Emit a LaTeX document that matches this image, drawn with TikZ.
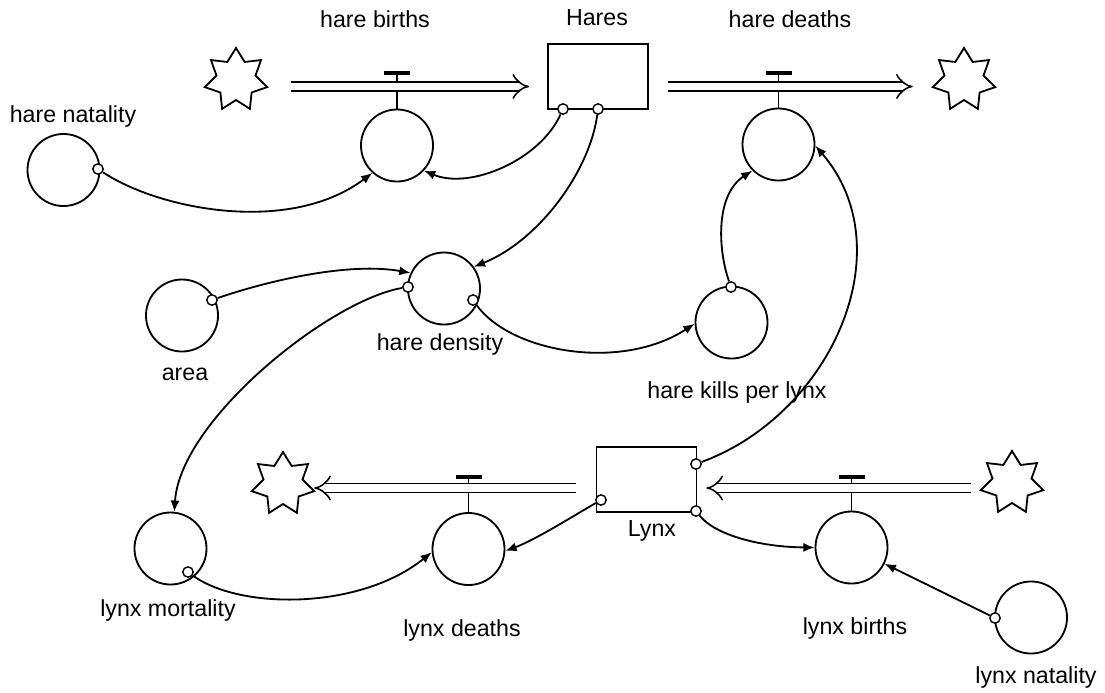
\documentclass[tikz,border=0pt]{standalone}
\usepackage{fontspec}
\setmainfont{Liberation Sans}
\usetikzlibrary{shapes.geometric,arrows.meta}

\tikzset{
  aux/.style={circle, draw, minimum size=1.8cm, inner sep=0pt},
  stock/.style={rectangle, draw, minimum width=2.5cm, minimum height=1.625cm, inner sep=0pt},
  cloud/.style={star, star points=7, star point ratio=1.6, draw, minimum size=1.6cm, inner sep=0pt},
  port/.style={circle, draw, fill=white, line width=1pt, minimum size=0.26cm, inner sep=0pt},
  lbl/.style={font=\fontsize{16.5}{20}\selectfont},
  flow/.style={double, double distance=5.2pt, line width=1.1pt, -{Implies}},
  link/.style={-{Latex[length=8pt,width=6.5pt]}},
  valvebar/.style={line width=2.4pt},
}

\begin{document}
\begin{tikzpicture}[x=0.025cm, y=-0.025cm, line width=1.3pt]
  \useasboundingbox (0,0) rectangle (1105,692);

  % stocks, clouds, converters
  \node[stock] (hares) at (598,76.5) {};
  \node[stock] (lynx) at (646.5,479.5) {};
  \node[cloud] (c1) at (236,80) {};
  \node[cloud] (c2) at (964,80) {};
  \node[cloud] (c3) at (283,484) {};
  \node[cloud] (c4) at (1012,483) {};
  \node[aux] (hn) at (63.5,170) {};
  \node[aux] (hb) at (397,145.5) {};
  \node[aux] (hd) at (778.5,144.5) {};
  \node[aux] (ar) at (182,315.5) {};
  \node[aux] (den) at (444,288.5) {};
  \node[aux] (kpl) at (731.5,322.5) {};
  \node[aux] (lm) at (170.5,548.5) {};
  \node[aux] (ld) at (468.5,549) {};
  \node[aux] (lb) at (851.5,547.5) {};
  \node[aux] (ln) at (1031,617.5) {};

  % labels
  \node[lbl] (hares-t) at (597,18) {Hares};
  \node[lbl] (hb-t) at (375,19) {hare births};
  \node[lbl] (hd-t) at (790,19) {hare deaths};
  \node[lbl] (hn-t) at (73,116) {hare natality};
  \node[lbl] (ar-t) at (185,374) {area};
  \node[lbl] (den-t) at (440,344) {hare density};
  \node[lbl] (kpl-t) at (737,392) {hare kills per lynx};
  \node[lbl] (lynx-t) at (652,531) {Lynx};
  \node[lbl] (lm-t) at (168,610) {lynx mortality};
  \node[lbl] (ld-t) at (462,630) {lynx deaths};
  \node[lbl] (lb-t) at (855,628) {lynx births};
  \node[lbl] (ln-t) at (1036,677) {lynx natality};

  % valves
  \coordinate (hbv) at (397,86.5);
  \coordinate (hdv) at (778.5,86.5);
  \coordinate (ldv) at (468.5,488);
  \coordinate (lbv) at (851.5,488);
  \draw (hb) -- (hbv) -- ++(0,-13.5);
  \draw (hd) -- (hdv) -- ++(0,-13.5);
  \draw (ld) -- (ldv) -- ++(0,-11);
  \draw (lb) -- (lbv) -- ++(0,-11);
  \draw[valvebar] (hbv) ++(-13,-13.5) -- ++(26,0);
  \draw[valvebar] (hdv) ++(-13,-13.5) -- ++(26,0);
  \draw[valvebar] (ldv) ++(-13,-11) -- ++(26,0);
  \draw[valvebar] (lbv) ++(-13,-11) -- ++(26,0);

  % flows
  \draw[flow, shorten <=0.75cm, shorten >=0.45cm] (c1.east |- hbv) -- (hares.west |- hbv);
  \draw[flow, shorten <=0.475cm, shorten >=0.65cm] (hares.east |- hdv) -- (c2.west |- hdv);
  \draw[flow, shorten <=0.5cm, shorten >=0.15cm] (lynx.west |- ldv) -- (c3.east |- ldv);
  \draw[flow, shorten <=0.4cm, shorten >=0.225cm] (c4.west |- lbv) -- (lynx.east |- lbv);

  % ports
  \node[port] (hn-o) at (98,169) {};
  \node[port] (hares-o1) at (563,109) {};
  \node[port] (hares-o2) at (598,109) {};
  \node[port] (ar-o) at (212,300) {};
  \node[port] (den-o1) at (408,287) {};
  \node[port] (den-o2) at (473,300) {};
  \node[port] (kpl-o) at (731,287) {};
  \node[port] (lynx-o1) at (696,464) {};
  \node[port] (lynx-o2) at (696,511) {};
  \node[port] (lynx-o3) at (601,500) {};
  \node[port] (lm-o) at (188,572) {};
  \node[port] (ln-o) at (995,618) {};

  % connectors
  \draw[link] (hn-o) .. controls (160,210) and (290,235) .. (hb.228);
  \draw[link] (hares-o1) .. controls (540,160) and (470,190) .. (hb.317);
  \draw[link] (hares-o2) .. controls (590,170) and (540,240) .. (den.36);
  \draw[link] (ar-o) .. controls (270,280) and (350,262) .. (den.155);
  \draw[link] (den-o1) .. controls (330,300) and (180,420) .. (lm.84);
  \draw[link] (den-o2) .. controls (510,352) and (620,372) .. (kpl.182);
  \draw[link] (kpl-o) .. controls (718,250) and (715,195) .. (hd.225);
  \draw[link] (lynx-o1) .. controls (830,415) and (905,250) .. (hd.-2);
  \draw[link] (lm-o) .. controls (240,610) and (360,610) .. (ld.185);
  \draw[link] (lynx-o3) .. controls (575,515) and (535,540) .. (ld.-3);
  \draw[link] (lynx-o2) .. controls (715,535) and (760,547) .. (lb.180);
  \draw[link] (ln-o) -- (lb);
\end{tikzpicture}
\end{document}
